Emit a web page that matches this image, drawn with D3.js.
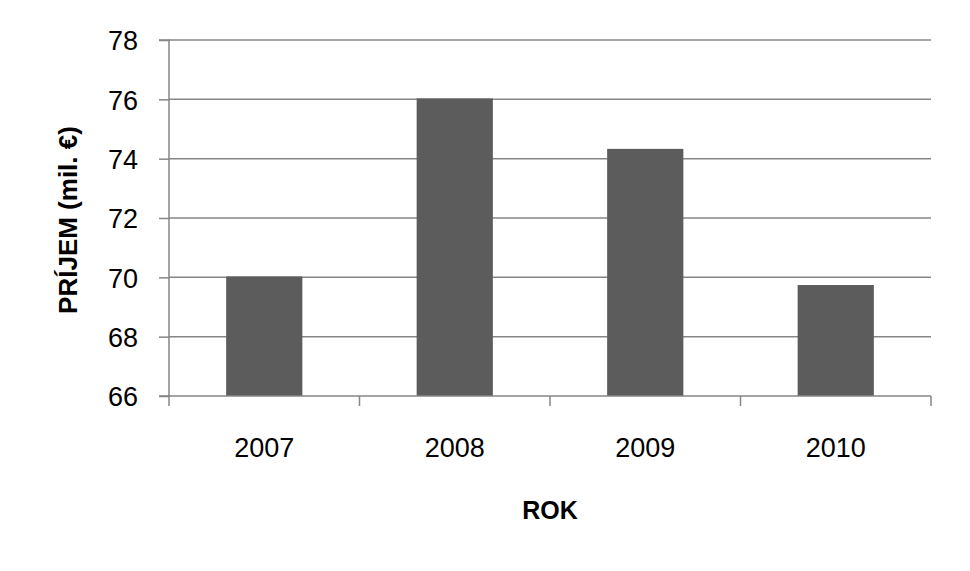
<!DOCTYPE html>
<html>
<head>
<meta charset="utf-8">
<script src="https://cdn.jsdelivr.net/npm/d3@7"></script>
<style>
  html, body { margin: 0; padding: 0; background: #fff; }
  svg { display: block; }
  text { font-family: "Liberation Sans", Arial, sans-serif; fill: #000; }
</style>
</head>
<body>
<svg id="chart" width="970" height="571"></svg>
<script>
const categories = ["2007", "2008", "2009", "2010"];
const values = [70.03, 76.03, 74.33, 69.74];
const yTicks = [66, 68, 70, 72, 74, 76, 78];
const yTitle = "PRÍJEM (mil. €)";
const xTitle = "ROK";

const svg = d3.select("#chart");
const pLeft = 169, pRight = 931, pTop = 40, pBottom = 396;

const x = d3.scaleBand().domain(categories).range([pLeft, pRight]).paddingInner(0.6).paddingOuter(0.3);
const y = d3.scaleLinear().domain([66, 78]).range([pBottom, pTop]);

const gridColor = "#868686";

// gridlines
svg.append("g").selectAll("line").data(yTicks.slice(1)).join("line")
  .attr("x1", pLeft).attr("x2", pRight)
  .attr("y1", d => y(d)).attr("y2", d => y(d))
  .attr("stroke", gridColor).attr("stroke-width", 1.5);

// bars
svg.append("g").selectAll("rect").data(categories).join("rect")
  .attr("x", d => x(d))
  .attr("width", x.bandwidth())
  .attr("y", (d, i) => y(values[i]))
  .attr("height", (d, i) => y(66) - y(values[i]))
  .attr("fill", "#5c5c5c");

// y axis
const yAxis = d3.axisLeft(y).tickValues(yTicks).tickSize(10).tickPadding(21).tickFormat(d3.format("d"));
const gy = svg.append("g").attr("transform", `translate(${pLeft},0)`).call(yAxis);
gy.select(".domain").attr("stroke", gridColor).attr("stroke-width", 1.5).attr("d", `M-10,${pTop}H0V${pBottom}H-10`);
gy.selectAll(".tick line").attr("stroke", gridColor).attr("stroke-width", 1.5);
gy.selectAll(".tick text").attr("font-size", 27).attr("font-family", "Liberation Sans, Arial, sans-serif").attr("fill", "#000").attr("dy", "0.36em");

// x axis
const xAxis = d3.axisBottom(x).tickSize(0).tickPadding(0);
const gx = svg.append("g").attr("transform", `translate(0,${pBottom})`).call(xAxis);
gx.select(".domain").attr("stroke", gridColor).attr("stroke-width", 1.5).attr("d", `M${pLeft},0H${pRight}`);
gx.selectAll(".tick text").attr("font-size", 27).attr("font-family", "Liberation Sans, Arial, sans-serif").attr("fill", "#000").attr("y", 61).attr("dy", 0);

// x tick marks at band boundaries
const step = x.step();
const boundaries = categories.map((d, i) => pLeft + i * step).concat([pRight]);
svg.append("g").selectAll("line").data(boundaries).join("line")
  .attr("x1", d => d).attr("x2", d => d)
  .attr("y1", pBottom).attr("y2", pBottom + 10)
  .attr("stroke", gridColor).attr("stroke-width", 1.5);

// axis titles
svg.append("text")
  .attr("x", 550).attr("y", 519)
  .attr("text-anchor", "middle")
  .attr("font-size", 25).attr("font-weight", "bold")
  .text(xTitle);

svg.append("text")
  .attr("transform", "translate(77,220) rotate(-90)")
  .attr("text-anchor", "middle")
  .attr("font-size", 26).attr("font-weight", "bold")
  .text(yTitle);
</script>
</body>
</html>
